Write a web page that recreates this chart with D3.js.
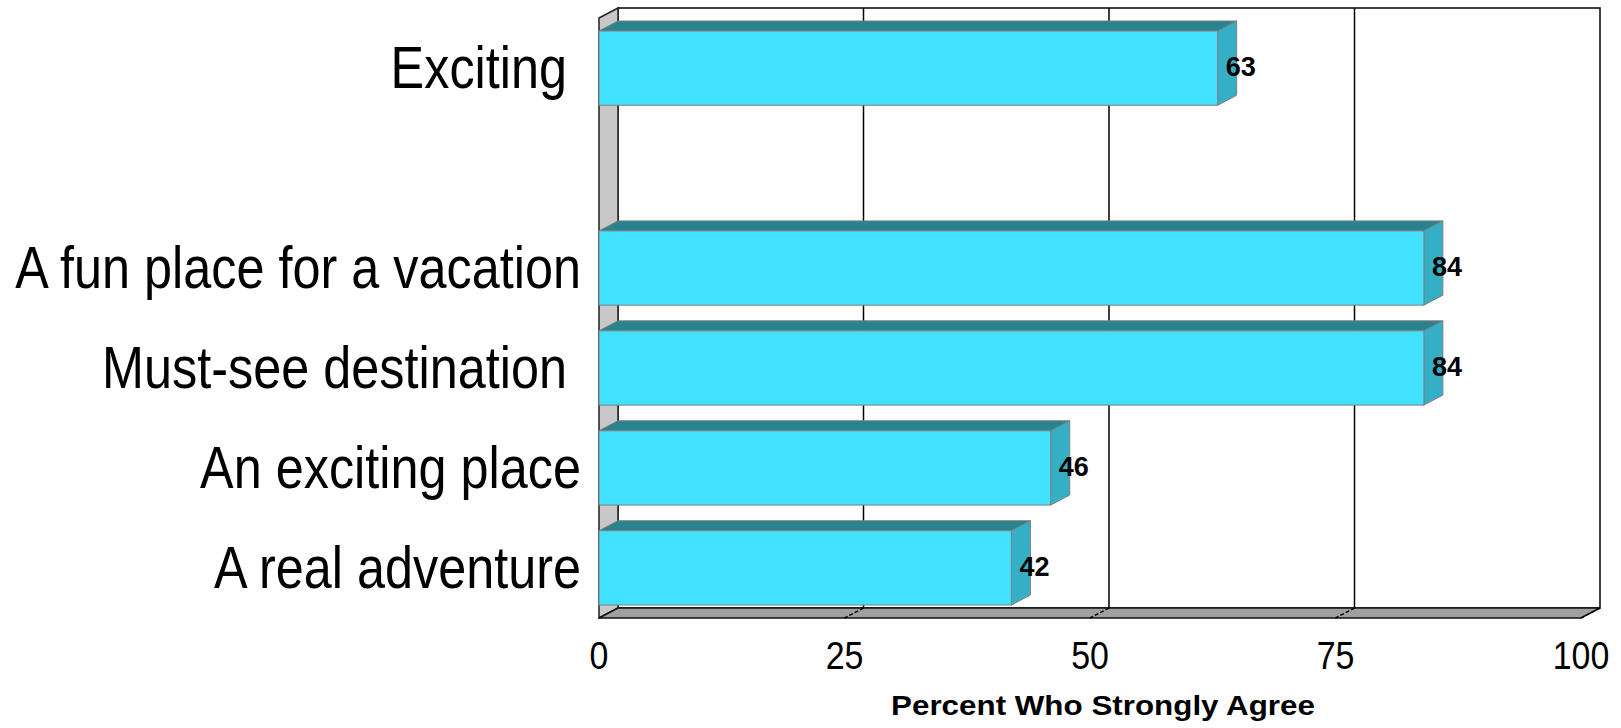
<!DOCTYPE html>
<html>
<head>
<meta charset="utf-8">
<script src="https://cdn.jsdelivr.net/npm/d3@7"></script>
<style>
  html, body { margin: 0; padding: 0; background: #ffffff; }
  svg { display: block; }
  text { font-family: "Liberation Sans", Arial, sans-serif; white-space: pre; }
</style>
</head>
<body>
<svg id="chart" width="1621" height="728"></svg>
<script>
// Survey statements, top to bottom (the second slot is left empty)
const categories = ["Exciting ", "", "A fun place for a vacation", "Must-see destination ", "An exciting place", "A real adventure"];
// Percent who strongly agree with each statement
const values = [63, null, 84, 84, 46, 42];
// Axis ticks and title
const xTicks = [0, 25, 50, 75, 100];
const xTickLabels = ["0", "25", "50", "75", "100"];
const axisTitle = "Percent Who Strongly Agree";

const svg = d3.select("#chart");

// Front plane of the 3-D box and the depth offset to the back plane
const front = { left: 599, right: 1581, top: 18, bottom: 618 };
const depth = { dx: 19, dy: -10 };

const x = d3.scaleLinear().domain([0, 100]).range([front.left, front.right]);
const y = d3.scaleBand()
  .domain(d3.range(categories.length))
  .range([front.top, front.bottom])
  .paddingInner(0.257)
  .paddingOuter(0.13);

const backX = v => x(v) + depth.dx;
const backTop = front.top + depth.dy;
const backBottom = front.bottom + depth.dy;
const pts = arr => arr.map(p => p.join(",")).join(" ");

// Back wall
svg.append("rect")
  .attr("x", backX(0)).attr("y", backTop)
  .attr("width", backX(100) - backX(0)).attr("height", backBottom - backTop)
  .attr("fill", "#ffffff").attr("stroke", "#000").attr("stroke-width", 1.5);

// Gridlines on the back wall
svg.append("g").selectAll("line")
  .data(xTicks.filter(t => t > 0 && t < 100))
  .join("line")
  .attr("x1", d => backX(d)).attr("x2", d => backX(d))
  .attr("y1", backTop).attr("y2", backBottom)
  .attr("stroke", "#000").attr("stroke-width", 1.5);

// Left side wall
svg.append("polygon")
  .attr("points", pts([
    [x(0), front.top], [backX(0), backTop],
    [backX(0), backBottom], [x(0), front.bottom]
  ]))
  .attr("fill", "#c8c8c8").attr("stroke", "#222").attr("stroke-width", 1.5);

// Floor
svg.append("polygon")
  .attr("points", pts([
    [x(0), front.bottom], [backX(0), backBottom],
    [backX(100), backBottom], [x(100), front.bottom]
  ]))
  .attr("fill", "#a0a0a0").attr("stroke", "#111").attr("stroke-width", 1.5);

// Tick marks running across the floor
svg.append("g").selectAll("line")
  .data(xTicks.filter(t => t > 0))
  .join("line")
  .attr("x1", d => backX(d)).attr("y1", backBottom)
  .attr("x2", d => x(d)).attr("y2", front.bottom)
  .attr("stroke", "#000").attr("stroke-width", 1.5)
  .attr("stroke-dasharray", "4,2");

// Bars
const barData = values.map((v, i) => ({ i, v })).filter(d => d.v != null);
const bars = svg.append("g").selectAll("g").data(barData).join("g");

const faceStroke = "#7f7f7f";

// top face
bars.append("polygon")
  .attr("points", d => {
    const t = y(d.i);
    return pts([[x(0), t], [backX(0), t + depth.dy], [backX(d.v), t + depth.dy], [x(d.v), t]]);
  })
  .attr("fill", "#28838f").attr("stroke", faceStroke).attr("stroke-width", 1);

// side face
bars.append("polygon")
  .attr("points", d => {
    const t = y(d.i), b = t + y.bandwidth();
    return pts([[x(d.v), t], [backX(d.v), t + depth.dy], [backX(d.v), b + depth.dy], [x(d.v), b]]);
  })
  .attr("fill", "#34afc6").attr("stroke", faceStroke).attr("stroke-width", 1);

// front face
bars.append("rect")
  .attr("x", x(0))
  .attr("y", d => y(d.i))
  .attr("width", d => x(d.v) - x(0))
  .attr("height", y.bandwidth())
  .attr("fill", "#42e1ff").attr("stroke", faceStroke).attr("stroke-width", 1);

// Value labels
bars.append("text")
  .attr("x", d => x(d.v) + 8)
  .attr("y", d => y(d.i) + y.bandwidth() / 2 + 8)
  .attr("font-size", 27).attr("font-weight", "bold").attr("fill", "#000")
  .text(d => d.v);

// Category labels (condensed face)
svg.append("g").selectAll("text")
  .data(categories)
  .join("text")
  .attr("transform", (d, i) => `translate(581,${y(i) + y.bandwidth() / 2 + 20}) scale(0.84,1)`)
  .attr("text-anchor", "end")
  .attr("font-size", 60).attr("fill", "#000")
  .text(d => d);

// Tick labels
svg.append("g").selectAll("text")
  .data(xTicks)
  .join("text")
  .attr("transform", d => `translate(${x(d)},669) scale(0.87,1)`)
  .attr("text-anchor", "middle")
  .attr("font-size", 39).attr("fill", "#000")
  .text((d, i) => xTickLabels[i]);

// Axis title (wide bold face)
svg.append("text")
  .attr("transform", "translate(1103,715) scale(1.12,1)")
  .attr("text-anchor", "middle")
  .attr("font-size", 28).attr("font-weight", "bold").attr("fill", "#000")
  .text(axisTitle);
</script>
</body>
</html>
